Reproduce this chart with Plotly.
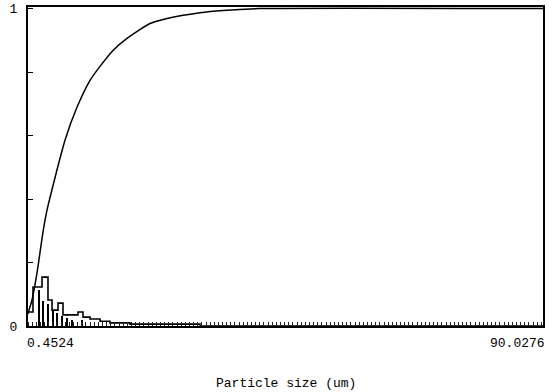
import plotly.graph_objects as go

# ---- data ----
x_min = 0.4524
x_max = 90.0276
x_tick_labels = ["0.4524", "90.0276"]
y_tick_values = [0, 0.2, 0.4, 0.6, 0.8, 1.0]
y_tick_labels = ["0", "", "", "", "", "1"]

# cumulative distribution (undersize fraction)
cum_x = [0.4524, 0.626, 1.148, 2.018, 3.06, 3.757, 6.89, 8.97, 11.24, 12.98,
         15.24, 17.67, 21.67, 24.63, 30.37, 34.37, 40.8, 90.0276]
cum_y = [0.038, 0.050, 0.082, 0.167, 0.296, 0.365, 0.585, 0.689, 0.774, 0.818,
         0.868, 0.906, 0.953, 0.969, 0.987, 0.994, 1.0, 1.0]

# frequency histogram (step outline), bin left edges and heights
hist_x = [0.4524, 1.32, 2.89, 3.93, 4.63, 5.67, 6.54, 9.15, 10.02, 11.24,
          12.98, 14.71, 18.19, 30.37, 90.0276]
hist_y = [0.044, 0.123, 0.154, 0.082, 0.050, 0.072, 0.035, 0.044, 0.028, 0.022,
          0.015, 0.010, 0.006, 0.0, 0.0]

# thin vertical stems under the histogram
stem_x = [2.37, 3.06, 3.93, 4.80, 5.50, 6.37, 7.24, 8.10, 9.85]
stem_y = [0.113, 0.080, 0.070, 0.050, 0.040, 0.030, 0.025, 0.020, 0.018]

x_title = "Particle size (um)"

FONT = "Liberation Mono, DejaVu Sans Mono, monospace"

fig = go.Figure()

fig.add_trace(go.Bar(
    x=stem_x, y=stem_y, width=0.12,
    marker=dict(color="black", line=dict(width=0)),
    showlegend=False, hoverinfo="skip",
))

fig.add_trace(go.Scatter(
    x=hist_x, y=hist_y, mode="lines", line_shape="hv",
    line=dict(color="black", width=1.6),
    showlegend=False,
))

fig.add_trace(go.Scatter(
    x=cum_x, y=cum_y, mode="lines", line_shape="spline",
    line=dict(color="black", width=1.5, smoothing=0.6),
    showlegend=False,
))

fig.update_layout(
    width=558, height=392,
    margin=dict(l=28, r=15, t=7, b=66),
    paper_bgcolor="white", plot_bgcolor="white",
    font=dict(family=FONT, size=12, color="black"),
    bargap=0,
)

fig.update_xaxes(
    range=[x_min, x_max], automargin=False,
    showgrid=False, zeroline=False,
    showline=True, linecolor="black", linewidth=2, mirror=True,
    tickmode="array", tickvals=[x_min, x_max], ticktext=["", ""],
    ticks="",
    minor=dict(tickmode="linear", tick0=x_min, dtick=0.72, ticks="inside",
               ticklen=4, tickcolor="#222222", tickwidth=1, showgrid=False),
)

fig.update_yaxes(
    range=[0, 1.005], automargin=False,
    showgrid=False, zeroline=False,
    showline=True, linecolor="black", linewidth=2, mirror=True,
    tickmode="array", tickvals=y_tick_values, ticktext=y_tick_labels,
    ticks="inside", ticklen=5, tickcolor="black", tickwidth=1,
    ticklabelstandoff=6,
    tickfont=dict(family=FONT, size=13),
)

# x tick labels, left- and right-aligned at the axis ends
fig.add_annotation(x=x_min, y=0, xref="x", yref="paper", text=x_tick_labels[0],
                   showarrow=False, xanchor="left", yanchor="top", yshift=-8,
                   xshift=-3, font=dict(family=FONT, size=13))
fig.add_annotation(x=x_max, y=0, xref="x", yref="paper", text=x_tick_labels[1],
                   showarrow=False, xanchor="right", yanchor="top", yshift=-8,
                   xshift=4, font=dict(family=FONT, size=13))
fig.add_annotation(x=0.5, y=0, xref="paper", yref="paper", text=x_title,
                   showarrow=False, xanchor="center", yanchor="middle", yshift=-57,
                   font=dict(family=FONT, size=13))

fig.write_html(
    "out.html",
    config={"displayModeBar": False},
    post_script="document.body.style.margin='0';document.body.style.overflow='hidden';",
)
